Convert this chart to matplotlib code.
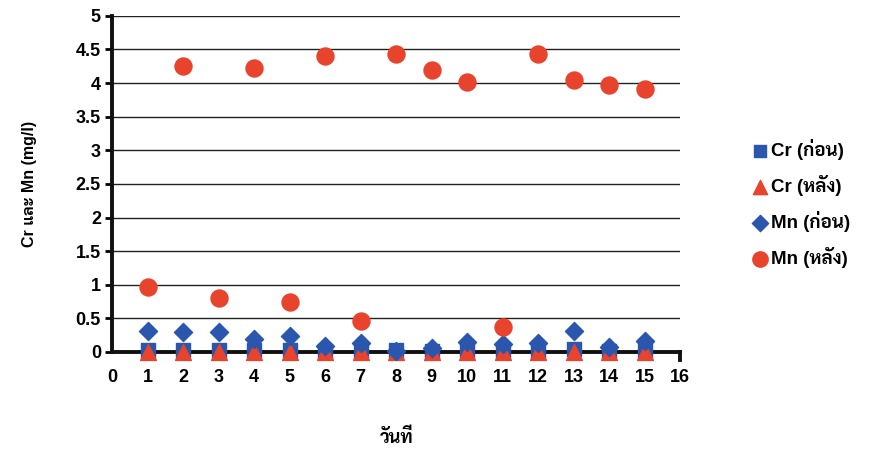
import matplotlib
matplotlib.use("Agg")
import matplotlib.pyplot as plt
from matplotlib import font_manager as fm

days = list(range(1, 16))
cr_before = [0.03, 0.03, 0.03, 0.03, 0.03, 0.02, 0.02, 0.03, 0.02, 0.03, 0.02, 0.0, 0.05, 0.02, 0.03]
cr_after = [0.0, 0.0, 0.0, 0.0, 0.0, 0.0, 0.0, 0.0, 0.0, 0.0, 0.0, 0.0, 0.0, 0.0, 0.0]
mn_before = [0.31, 0.30, 0.30, 0.19, 0.24, 0.09, 0.13, 0.02, 0.06, 0.15, 0.12, 0.14, 0.31, 0.07, 0.17]
mn_after = [0.97, 4.26, 0.80, 4.23, 0.74, 4.40, 0.46, 4.43, 4.20, 4.02, 0.37, 4.43, 4.05, 3.97, 3.91]
labels = ["Cr (ก่อน)", "Cr (หลัง)", "Mn (ก่อน)", "Mn (หลัง)"]
yticks = [0, 0.5, 1, 1.5, 2, 2.5, 3, 3.5, 4, 4.5, 5]
ytick_labels = ["0", "0.5", "1", "1.5", "2", "2.5", "3", "3.5", "4", "4.5", "5"]
xticks = list(range(0, 17))

bold_fams = {f.name for f in fm.fontManager.ttflist if f.weight in (700, "bold")}
names = {f.name for f in fm.fontManager.ttflist}
cands = ["Sarabun", "Noto Sans Thai", "IBM Plex Sans Thai", "Kanit", "Prompt"]
thai = next((n for n in cands if n in bold_fams), None) or next((n for n in cands if n in names), None)
fam = ["Liberation Sans"] + ([thai] if thai else []) + ["DejaVu Sans"]
plt.rcParams["font.family"] = fam

blue = "#2a57ad"
red = "#e8432d"

fig = plt.figure(figsize=(8.71, 4.53), dpi=100)
ax = fig.add_axes([0.1286, 0.223, 0.6524, 0.742])

ax.scatter(days, cr_before, marker="s", s=100, color=blue, label=labels[0], clip_on=False, zorder=3)
ax.scatter(days, cr_after, marker="^", s=130, color=red, label=labels[1], clip_on=False, zorder=4)
ax.scatter(days, mn_before, marker="D", s=85, color=blue, label=labels[2], clip_on=False, zorder=5)
ax.scatter(days, mn_after, marker="o", s=150, color=red, label=labels[3], clip_on=False, zorder=6)

ax.set_xlim(0, 16)
ax.set_ylim(0, 5)
ax.set_yticks(yticks)
ax.set_yticklabels(ytick_labels)
ax.set_xticks(xticks)
ax.yaxis.grid(True, color="#222222", linewidth=1.0)
ax.set_axisbelow(True)
for s in ["top", "right"]:
    ax.spines[s].set_visible(False)
for s in ["left", "bottom"]:
    ax.spines[s].set_linewidth(2.8)
    ax.spines[s].set_color("#111111")
ax.tick_params(axis="y", length=5, width=2, direction="out", pad=3, labelsize=13)
ax.tick_params(axis="x", length=0, pad=12, labelsize=13)
for t in ax.get_xticklabels() + ax.get_yticklabels():
    t.set_fontweight("bold")
ax.plot([16, 16], [0, -0.12], color="#111111", lw=2.8, clip_on=False)

ax.set_ylabel("Cr และ Mn (mg/l)", fontsize=11.5, fontweight="bold", labelpad=28)
ax.set_xlabel("วันที่", fontsize=13, fontweight="bold", labelpad=31)

leg = fig.legend(loc="upper left", bbox_to_anchor=(0.852, 0.71), frameon=False,
                 handletextpad=0.05, labelspacing=0.8, fontsize=13.5, markerscale=0.9,
                 handlelength=1.1, borderaxespad=0)
for t in leg.get_texts():
    t.set_fontweight("bold")

fig.savefig("out.png", dpi=100)
